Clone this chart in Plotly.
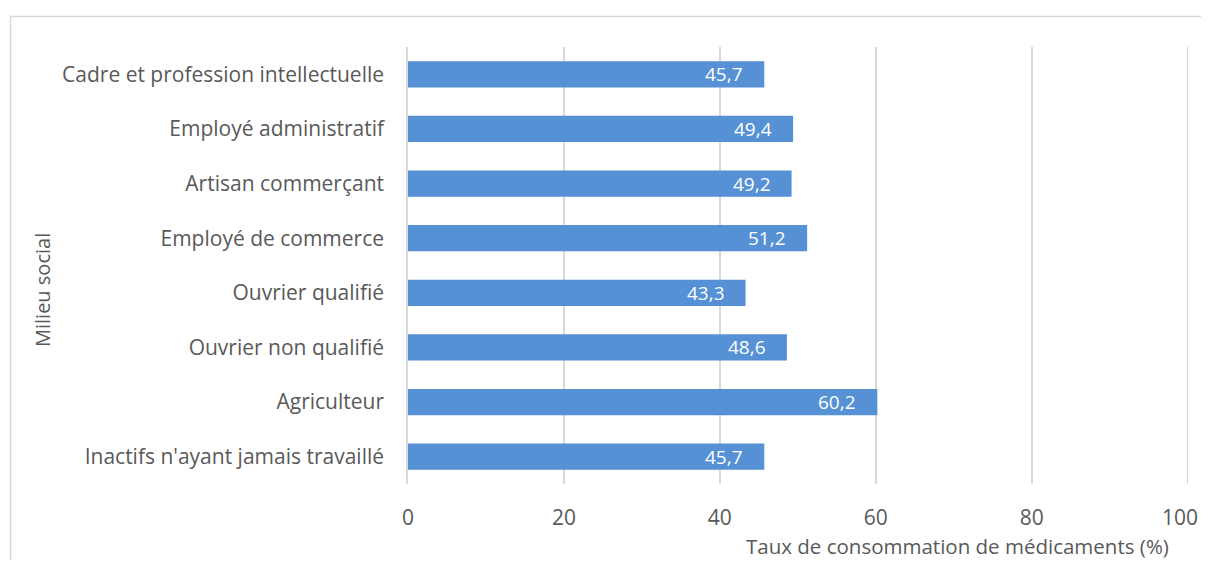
import plotly.graph_objects as go

categories = [
    "Cadre et profession intellectuelle",
    "Employé administratif",
    "Artisan commerçant",
    "Employé de commerce",
    "Ouvrier qualifié",
    "Ouvrier non qualifié",
    "Agriculteur",
    "Inactifs n'ayant jamais travaillé",
]
values = [45.7, 49.4, 49.2, 51.2, 43.3, 48.6, 60.2, 45.7]
x_ticks = [0, 20, 40, 60, 80, 100]
x_tick_labels = ["0", "20", "40", "60", "80", "100"]

FONT = "Open Sans"
GREY = "#595959"
GRID = "#D9D9D9"

OFF = 8  # page body margin
W, H = 1209 - 2 * OFF, 568 - 2 * OFF
L, T = 408 - OFF, 47 - OFF
R = (W + OFF) - 1188
B = (H + OFF) - 484
pw, ph = W - L - R, H - T - B

fig = go.Figure()
fig.add_trace(go.Bar(
    x=values, y=categories, orientation="h",
    marker=dict(color="#5591D4", line=dict(width=0)),
    hoverinfo="skip",
))

for c, v in zip(categories, values):
    fig.add_annotation(
        x=v, y=c, xref="x", yref="y", text=f"{v:.1f}".replace(".", ","),
        showarrow=False, xanchor="right", xshift=-19,
        font=dict(family=FONT, size=19, color="white"),
    )

def px(xp):
    return (xp - OFF - L) / pw

def py(yp):
    return (H - B - (yp - OFF)) / ph

# gridline at the last tick (plotly drops gridlines at the very edge)
fig.add_shape(
    type="line", xref="x", yref="paper", x0=x_ticks[-1], x1=x_ticks[-1], y0=0, y1=1,
    line=dict(color=GRID, width=1.5), layer="below",
)

# the last tick label would overflow the page edge: draw it right-anchored at its tick
fig.add_annotation(
    x=x_ticks[-1], y=py(517), xref="x", yref="paper", text=x_tick_labels[-1],
    showarrow=False, xanchor="right", yanchor="middle", xshift=12,
    font=dict(family=FONT, size=21, color=GREY),
)

fig.add_annotation(
    x=px(42), y=py(290), xref="paper", yref="paper", text="Milieu social",
    textangle=-90, showarrow=False, xanchor="center", yanchor="middle",
    font=dict(family=FONT, size=20, color=GREY),
)
fig.add_annotation(
    x=px(1171), y=py(546), xref="paper", yref="paper",
    text="Taux de consommation de médicaments (%)",
    showarrow=False, xanchor="right", yanchor="middle",
    font=dict(family=FONT, size=20.5, color=GREY),
)

fig.add_shape(
    type="rect", xref="paper", yref="paper",
    x0=px(10.5), x1=px(1250), y0=py(620), y1=py(16.5),
    line=dict(color=GRID, width=1.5), fillcolor="rgba(0,0,0,0)", layer="below",
)

fig.update_layout(
    width=W, height=H,
    margin=dict(l=L, r=R, t=T, b=B),
    paper_bgcolor="white", plot_bgcolor="white",
    showlegend=False, bargap=0.52,
    font=dict(family=FONT, size=21, color=GREY),
    xaxis=dict(
        range=[0, 100.05], tickvals=x_ticks, ticktext=x_tick_labels[:-1] + [""],
        showgrid=True, gridcolor=GRID,
        gridwidth=1.5, zeroline=False, showline=False,
        tickfont=dict(family=FONT, size=21, color=GREY), ticks="", ticklabelstandoff=19,
    ),
    yaxis=dict(
        autorange="reversed", showgrid=False, showline=True, linecolor=GRID,
        linewidth=1.5, ticks="", ticklabelstandoff=18,
        tickfont=dict(family=FONT, size=21, color=GREY),
    ),
)

fig.write_html("out.html")
